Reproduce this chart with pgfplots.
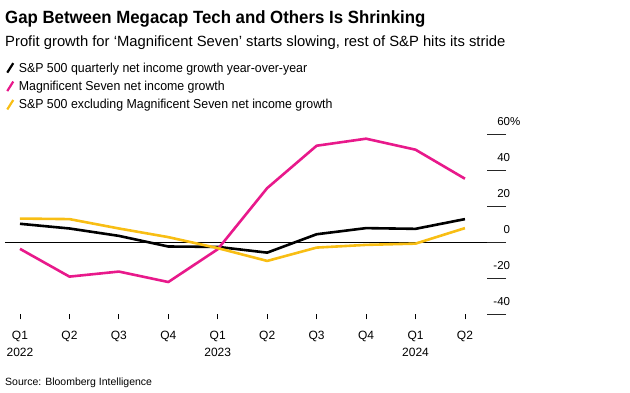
\documentclass[border=0pt]{standalone}
\usepackage{fontspec}
\setmainfont{Liberation Sans}
\newfontfamily\titlefont{Liberation Sans}[FakeStretch=0.95]
\newfontfamily\legfont{Liberation Sans}[FakeStretch=0.95]
\usepackage{pgfplots}
\pgfplotsset{compat=1.18}
\definecolor{bbpink}{HTML}{E8198B}
\definecolor{bbyellow}{HTML}{F8BE14}
\definecolor{bbblack}{HTML}{000000}
\begin{document}
\begin{tikzpicture}[x=1pt,y=1pt]
\useasboundingbox (0,0) rectangle (630,-393);
\node[anchor=base west, inner sep=0pt, font=\fontsize{17.7}{20}\titlefont\bfseries] at (5,-23.3) {Gap Between Megacap Tech and Others Is Shrinking};
\node[anchor=base west, inner sep=0pt, font=\fontsize{14.8}{17}\selectfont] at (5,-46.7) {Profit growth for ‘Magnificent Seven’ starts slowing, rest of S\&P hits its stride};
\node[anchor=base west, inner sep=0pt, font=\fontsize{10.5}{12}\selectfont] at (5,-385) {Source: Bloomberg Intelligence};
\begin{axis}[
  at={(5pt,-314.3pt)}, anchor=south west,
  width=482pt, height=180.3pt, scale only axis,
  xmin=-0.303, xmax=9.446, ymin=-40, ymax=60,
  axis x line*=bottom, axis y line*=right,
  axis line style={draw=none},
  tick align=outside,
  xtick={0,...,9},
  xticklabels={{Q1\\2022},Q2,Q3,Q4,{Q1\\2023},Q2,Q3,Q4,{Q1\\2024},Q2},
  xtick style={black, line width=0.8pt, /pgfplots/major tick length=5pt},
  xticklabel style={align=center, anchor=north, inner sep=0pt, yshift=-12pt, font=\fontsize{12}{17}\selectfont},
  ytick={-40,-20,0,20,40,60},
  yticklabels={-40,-20,0,20,40,60\rlap{\%}},
  ytick style={black!85, line width=0.8pt, /pgfplots/major tick length=19pt},
  yticklabel style={anchor=base east, inner sep=0pt, xshift=19pt, yshift=9pt, font=\fontsize{11.5}{13}\selectfont},
  /pgf/number format/assume math mode=true,
  clip=false,
  legend style={at={(0.002,1.405)}, anchor=north west, draw=none, fill=none, inner sep=0pt,
    font=\fontsize{13}{15}\legfont, row sep=4.5pt, column sep=3pt, nodes={inner sep=1.5pt}},
  legend cell align=left,
  legend image code/.code={\draw[#1, line width=2.2pt] (1pt,-4.5pt) -- (7pt,5pt);},
]
\draw[black, line width=0.8pt] (axis cs:-0.303,0) -- (axis cs:9.446,0);
\addplot[bbblack, line width=2.6pt, line join=round] coordinates {
(0,10.2)(1,7.6)(2,3.5)(3,-2.4)(4,-2.6)(5,-5.8)(6,4.4)(7,7.8)(8,7.4)(9,12.8)};
\addlegendentry{S\&P 500 quarterly net income growth year-over-year}
\addplot[bbpink, line width=2.6pt, line join=round] coordinates {
(0,-3.7)(1,-19.1)(2,-16.3)(3,-22.1)(4,-3.9)(5,30)(6,53.5)(7,57.4)(8,51.3)(9,35.2)};
\addlegendentry{Magnificent Seven net income growth}
\addplot[bbyellow, line width=2.6pt, line join=round] coordinates {
(0,13.1)(1,12.8)(2,7.6)(3,2.8)(4,-3.3)(5,-10.4)(6,-3.0)(7,-1.5)(8,-0.8)(9,7.8)};
\addlegendentry{S\&P 500 excluding Magnificent Seven net income growth}
\end{axis}
\end{tikzpicture}
\end{document}
